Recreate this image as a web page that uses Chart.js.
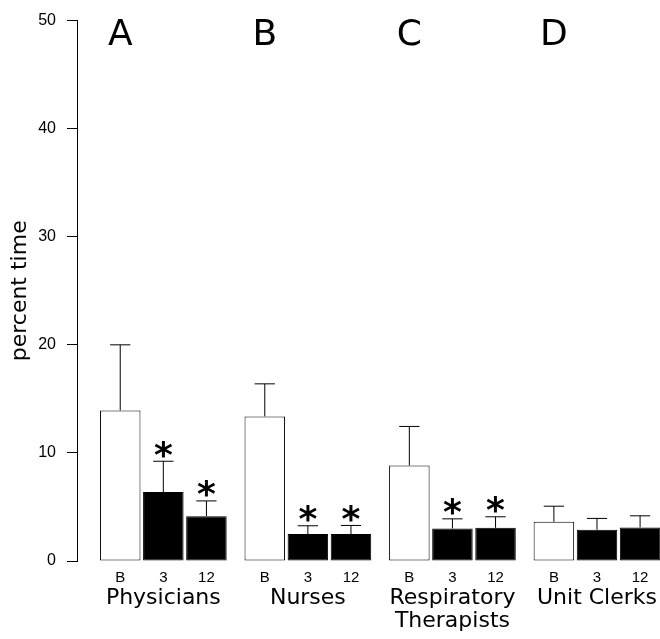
<!DOCTYPE html>
<html><head><meta charset="utf-8">
<script src="https://cdn.jsdelivr.net/npm/chart.js@4/dist/chart.umd.min.js"></script>
<style>html,body{margin:0;padding:0;background:#fff;} canvas{display:block;}</style>
</head><body>
<canvas id="c" width="660" height="639"></canvas>
<script>
// ---- data ----
const categories = ['Physicians', 'Nurses', ['Respiratory', 'Therapists'], 'Unit Clerks'];
const panelLetters = ['A', 'B', 'C', 'D'];
const periods = ['B', '3', '12'];
const baselineMean = [13.93, 13.38, 8.83, 3.63];
const month3Mean   = [6.39, 2.49, 3.01, 2.89];
const month12Mean  = [4.15, 2.49, 3.07, 3.11];
const baselineErr  = [6.07, 3.01, 3.62, 1.44];
const month3Err    = [2.84, 0.77, 0.89, 1.05];
const month12Err   = [1.41, 0.80, 1.02, 1.07];
const baselineSig  = [false, false, false, false];
const month3Sig    = [true, true, true, false];
const month12Sig   = [true, true, true, false];
const yTicks = [0, 10, 20, 30, 40, 50];

// ---- layout helpers ----
const GROUP_STEP = 3.354;           // distance between groups, in bar slots
const barX = (g, k) => g * GROUP_STEP + k;
const groupCenter = g => g * GROUP_STEP + 1;
const X_MIN = -1.003, X_MAX = 12.524;

const series = [
  {label: periods[0], means: baselineMean, errs: baselineErr, sig: baselineSig, fill: '#ffffff'},
  {label: periods[1], means: month3Mean,   errs: month3Err,   sig: month3Sig,   fill: '#000000'},
  {label: periods[2], means: month12Mean,  errs: month12Err,  sig: month12Sig,  fill: '#000000'}
];

const datasets = series.map((s, k) => ({
  label: s.label,
  data: s.means.map((v, g) => ({x: barX(g, k), y: v})),
  backgroundColor: s.fill,
  borderColor: '#000000',
  borderWidth: 1,
  borderSkipped: false,
  grouped: false,
  categoryPercentage: 1,
  barPercentage: 0.94,
  xAxisID: 'x',
  yAxisID: 'y'
}));

const barTickValues = [];
categories.forEach((c, g) => periods.forEach((p, k) => barTickValues.push(barX(g, k))));
const groupTickValues = categories.map((c, g) => groupCenter(g));

const annotate = {
  id: 'annotate',
  afterDatasetsDraw(chart) {
    const ctx = chart.ctx;
    const yScale = chart.scales.y;
    ctx.save();
    series.forEach((s, k) => {
      const meta = chart.getDatasetMeta(k);
      meta.data.forEach((el, g) => {
        const x = el.x;
        const yTop = yScale.getPixelForValue(s.means[g] + s.errs[g]);
        const yBar = yScale.getPixelForValue(s.means[g]);
        const half = el.width / 4;
        ctx.strokeStyle = '#000';
        ctx.lineWidth = 1;
        ctx.beginPath();
        ctx.moveTo(x, yBar);
        ctx.lineTo(x, yTop);
        ctx.moveTo(x - half, yTop);
        ctx.lineTo(x + half, yTop);
        ctx.stroke();
        if (s.sig[g]) {
          ctx.font = 'bold 36px "DejaVu Sans"';
          ctx.fillStyle = '#000';
          ctx.textAlign = 'center';
          ctx.textBaseline = 'alphabetic';
          const m = ctx.measureText('*');
          const cy = yTop - 12;
          const base = cy + (m.actualBoundingBoxAscent - m.actualBoundingBoxDescent) / 2;
          ctx.fillText('*', x, base);
        }
      });
    });
    // panel letters above the baseline bar of each group
    const meta0 = chart.getDatasetMeta(0);
    ctx.font = '36px "DejaVu Sans"';
    ctx.fillStyle = '#000';
    ctx.textAlign = 'center';
    ctx.textBaseline = 'alphabetic';
    panelLetters.forEach((L, g) => {
      ctx.fillText(L, meta0.data[g].x, 45);
    });
    ctx.restore();
  }
};

new Chart(document.getElementById('c'), {
  type: 'bar',
  data: {datasets},
  plugins: [annotate],
  options: {
    responsive: false,
    animation: false,
    devicePixelRatio: 1,
    layout: {padding: {top: 19, right: 0, bottom: 0, left: 0}},
    plugins: {legend: {display: false}, tooltip: {enabled: false}},
    scales: {
      x: {
        type: 'linear',
        position: 'bottom',
        offset: false,
        weight: 0,
        min: X_MIN, max: X_MAX,
        grid: {display: false, drawTicks: false, offset: false},
        border: {display: false},
        afterBuildTicks: s => { s.ticks = barTickValues.map(v => ({value: v})); },
        afterFit: s => { s.height = 25; },
        ticks: {
          autoSkip: false, maxRotation: 0, padding: 8,
          color: '#000',
          font: {family: 'Liberation Sans', size: 15},
          callback: (v, i) => periods[i % periods.length]
        }
      },
      xc: {
        type: 'linear',
        position: 'bottom',
        offset: false,
        weight: 1,
        min: X_MIN, max: X_MAX,
        grid: {display: false, drawTicks: false, offset: false},
        border: {display: false},
        afterBuildTicks: s => { s.ticks = groupTickValues.map(v => ({value: v})); },
        afterFit: s => { s.height = 53; },
        ticks: {
          autoSkip: false, maxRotation: 0, padding: 1,
          color: '#000',
          font: {family: 'DejaVu Sans', size: 22, lineHeight: 1.045},
          callback: (v, i) => categories[i]
        }
      },
      y: {
        type: 'linear',
        position: 'left',
        min: 0, max: 50,
        afterBuildTicks: s => { s.ticks = yTicks.map(v => ({value: v})); },
        afterFit: s => { s.width = 77; },
        grid: {display: true, drawOnChartArea: false, drawTicks: true, tickLength: 10, color: '#000', tickColor: '#000', lineWidth: 1},
        border: {display: true, color: '#000', width: 1},
        title: {display: true, text: 'percent time', color: '#000', font: {family: 'DejaVu Sans', size: 22}, padding: {top: 7, bottom: 0}},
        ticks: {color: '#000', padding: 11, font: {family: 'Liberation Sans', size: 16}}
      }
    }
  }
});
</script>
</body></html>
